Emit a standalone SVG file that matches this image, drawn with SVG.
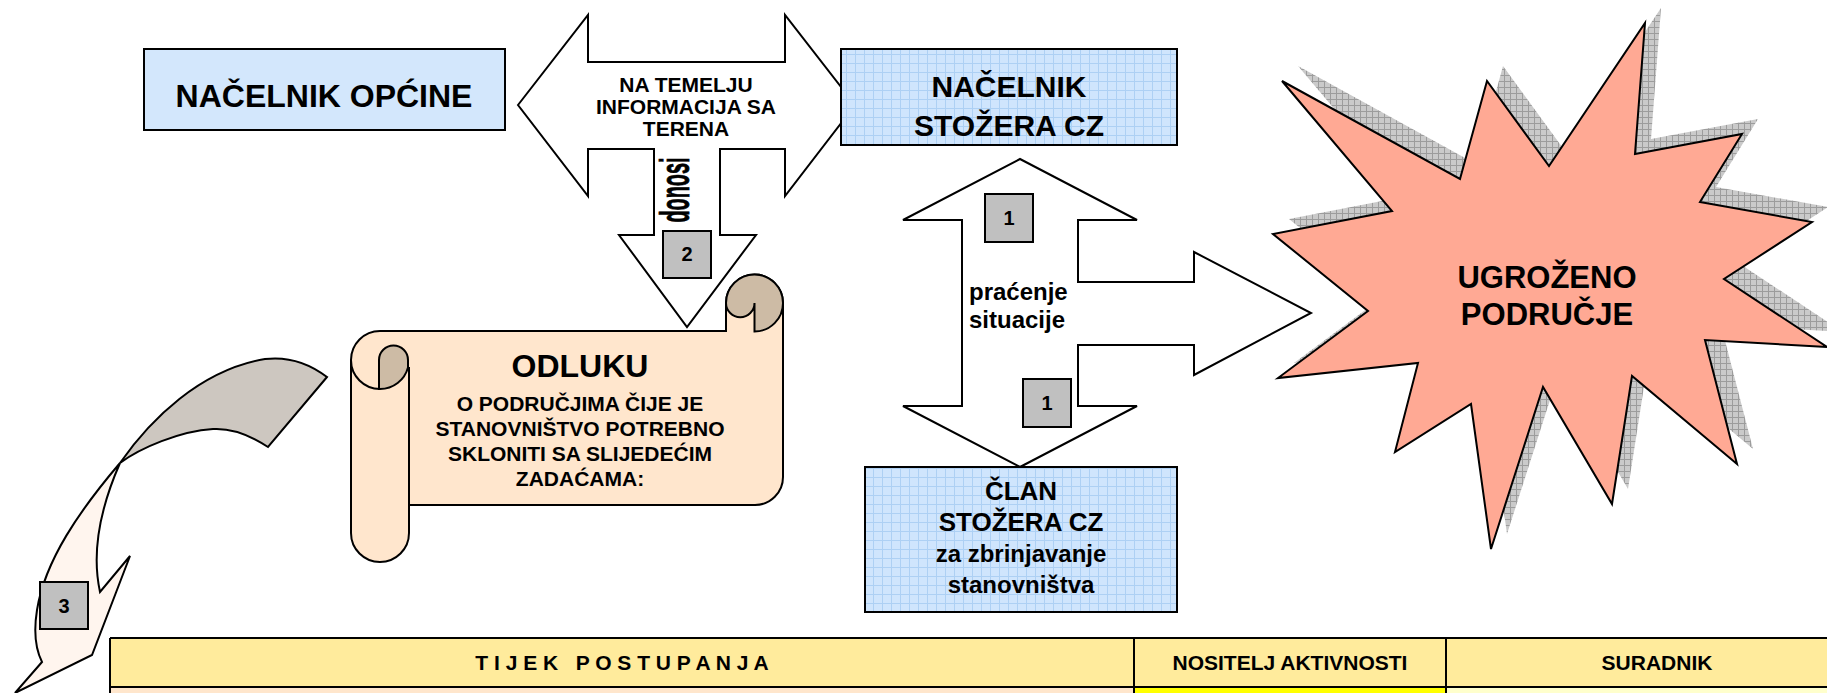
<svg xmlns="http://www.w3.org/2000/svg" width="1827" height="693" viewBox="0 0 1827 693">
<defs>
<pattern id="bluegrid" width="9" height="9" patternUnits="userSpaceOnUse"><rect width="9" height="9" fill="#CFE5FD"/><path d="M0 0.5H9M0.5 0V9" stroke="#ADD0F4" stroke-width="1"/></pattern>
<pattern id="hatch" width="6" height="6" patternUnits="userSpaceOnUse"><rect width="6" height="6" fill="#CACACA"/><path d="M0 0.5H6M0.5 0V6" stroke="#9C9C9C" stroke-width="1"/></pattern>
<style>
text{font-family:"Liberation Sans",Arial,sans-serif;font-weight:bold;fill:#000;text-anchor:middle}
.ln{stroke:#000;stroke-width:2;stroke-linejoin:miter}
.arrow{fill:#fff;stroke:#000;stroke-width:2}
.num{fill:#C0C0C0;stroke:#000;stroke-width:2}
.t21{font-size:21px}
.t20{font-size:20px}
</style>
</defs>
<rect width="1827" height="693" fill="#fff"/>

<g id="connectors">
<path class="arrow" d="M518,105 L588,15 L588,62 L785,62 L785,15 L855,105 L785,196 L785,149 L720,149 L720,235 L756,235 L687,327 L619,235 L654,235 L654,149 L588,149 L588,196 Z"/>
<path class="arrow" d="M1020,159 L1137,220 L1078,220 L1078,282 L1194,282 L1194,252 L1311,313 L1194,375 L1194,345 L1078,345 L1078,406 L1137,406 L1020,467 L903,406 L962,406 L962,220 L903,220 Z"/>
<path d="M327,377 L268,447 C250,435 230,428 213,429 C180,431 140,448 120,463 C150,420 200,370 265,359 C290,356 310,364 327,377 Z" fill="#CDC7C0" stroke="#000" stroke-width="2"/>
<path d="M120,463 C80,510 45,560 37,610 C33,635 36,650 42,662 L15,693 L92,655 L130,556 L100,592 C93,560 95,520 120,463 Z" fill="#FFF5EE" stroke="#000" stroke-width="2"/>
</g>

<g id="arrow-text">
<text class="t21" x="686" y="92">NA TEMELJU</text>
<text class="t21" x="686" y="114">INFORMACIJA SA</text>
<text class="t21" x="686" y="136">TERENA</text>
<text transform="translate(689,190) rotate(-90)" x="0" y="0" font-size="40" stroke="#000" stroke-width="0.8" textLength="65" lengthAdjust="spacingAndGlyphs">donosi</text>
<text x="969" y="300" font-size="24" style="text-anchor:start">praćenje</text>
<text x="969" y="328" font-size="24" style="text-anchor:start">situacije</text>
</g>

<g id="num2">
<rect class="num" x="663" y="231" width="48" height="47"/>
<text class="t20" x="687" y="261">2</text>
</g>
<g id="num1a">
<rect class="num" x="985" y="194" width="48" height="48"/>
<text class="t20" x="1009" y="225">1</text>
</g>
<g id="num1b">
<rect class="num" x="1023" y="379" width="48" height="48"/>
<text class="t20" x="1047" y="410">1</text>
</g>
<g id="num3">
<rect class="num" x="40" y="582" width="48" height="47"/>
<text class="t20" x="64" y="613">3</text>
</g>

<g id="nacelnik-opcine">
<rect x="144" y="49" width="361" height="81" fill="#D3E7FC" stroke="#000" stroke-width="2"/>
<text x="324" y="107" font-size="32">NAČELNIK OPĆINE</text>
</g>

<g id="nacelnik-stozera">
<rect x="841" y="49" width="336" height="96" fill="url(#bluegrid)" stroke="#000" stroke-width="2"/>
<text x="1009" y="97" font-size="30">NAČELNIK</text>
<text x="1009" y="136" font-size="30">STOŽERA CZ</text>
</g>

<g id="clan-stozera">
<rect x="865" y="467" width="312" height="145" fill="url(#bluegrid)" stroke="#000" stroke-width="2"/>
<text x="1021" y="500" font-size="26">ČLAN</text>
<text x="1021" y="531" font-size="26">STOŽERA CZ</text>
<text x="1021" y="562" font-size="24">za zbrinjavanje</text>
<text x="1021" y="593" font-size="24">stanovništva</text>
</g>

<g id="odluku">
<path d="M380,331 L726,331 L726,303 A28.5,28.5 0 0 1 783,303 L783,477 A28,28 0 0 1 755,505 L409,505 L409,533 A29,29 0 0 1 351,533 L351,360 A29,29 0 0 1 380,331 Z" fill="#FFE6CD" stroke="#000" stroke-width="2"/>
<path d="M409,367 L409,505" class="ln" fill="none"/>
<path d="M351,360 A29,29 0 0 0 380,389" class="ln" fill="none"/>
<path d="M379,360 A14.5,14.5 0 0 1 408,360 L408,367.5 A29,29 0 0 1 380,389 L379,389 Z" fill="#CDBBA5" stroke="#000" stroke-width="2"/>
<path d="M726,303 A28.5,28.5 0 0 1 783,303 A28.5,28.5 0 0 1 754.5,331.5 L754.5,303 A14.25,14.25 0 0 1 726,303 Z" fill="#CDBBA5" stroke="#000" stroke-width="2"/>
<text x="580" y="377" font-size="32">ODLUKU</text>
<text class="t21" x="580" y="411">O PODRUČJIMA ČIJE JE</text>
<text class="t21" x="580" y="436">STANOVNIŠTVO POTREBNO</text>
<text class="t21" x="580" y="461">SKLONITI SA SLIJEDEĆIM</text>
<text class="t21" x="580" y="486">ZADAĆAMA:</text>
</g>

<g id="ugrozeno">
<polygon transform="translate(16,-15)" fill="url(#hatch)" points="1645,23 1635,154 1742,134 1700,202 1812,222 1724,279 1827,347 1705,340 1737,464 1632,376 1612,504 1543,387 1491,549 1471,404 1395,452 1418,363 1278,378 1368,311 1273,234 1392,211 1282,81 1460,179 1487,81 1549,166"/>
<polygon fill="#FFA994" stroke="#000" stroke-width="2" points="1645,23 1635,154 1742,134 1700,202 1812,222 1724,279 1827,347 1705,340 1737,464 1632,376 1612,504 1543,387 1491,549 1471,404 1395,452 1418,363 1278,378 1368,311 1273,234 1392,211 1282,81 1460,179 1487,81 1549,166"/>
<text x="1547" y="288" font-size="31">UGROŽENO</text>
<text x="1547" y="325" font-size="31">PODRUČJE</text>
</g>

<g id="table">
<rect x="110" y="638" width="1730" height="49" fill="#FFEB9C"/>
<rect x="110" y="687" width="1024" height="10" fill="#FFE6CC"/>
<rect x="1134" y="687" width="312" height="10" fill="#FFFF00"/>
<rect x="1446" y="687" width="394" height="10" fill="#FFFFCC"/>
<path class="ln" fill="none" d="M110,638 H1840 M110,687 H1840 M110,638 V697 M1134,638 V697 M1446,638 V697"/>
<text class="t21" x="622" y="670" xml:space="preserve" style="white-space:pre">T I J E K   P O S T U P A N J A</text>
<text class="t21" x="1290" y="670">NOSITELJ AKTIVNOSTI</text>
<text class="t21" x="1657" y="670">SURADNIK</text>
</g>
</svg>
